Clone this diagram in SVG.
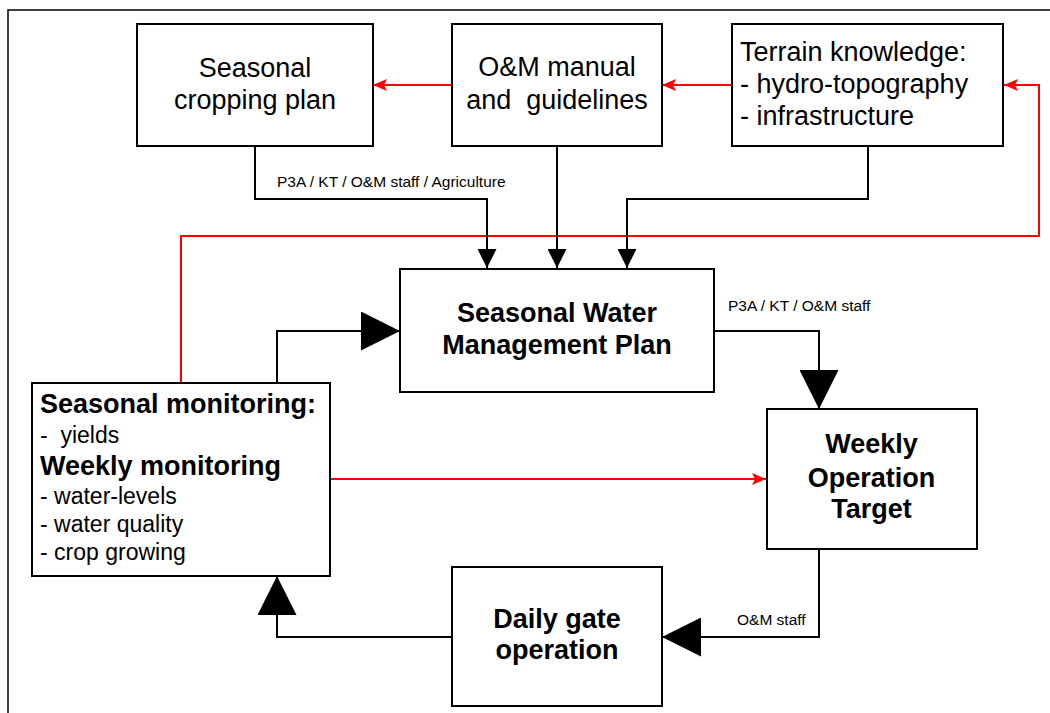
<svg xmlns="http://www.w3.org/2000/svg" width="1050" height="713" viewBox="0 0 1050 713">
<style>
.box{fill:#fff;stroke:#000;stroke-width:2}
.blk{fill:none;stroke:#000;stroke-width:2}
.red{fill:none;stroke:#ff0000;stroke-width:2}
text{font-family:"Liberation Sans",Arial,sans-serif;fill:#000}
.t{font-size:27px}
.b{font-size:27px;font-weight:bold}
.s{font-size:23px}
.lbl{font-size:15.5px}
.c{text-anchor:middle}
</style>
<defs>
<marker id="ar" viewBox="0 0 14 12" refX="14" refY="6" markerWidth="14" markerHeight="12" markerUnits="userSpaceOnUse" orient="auto"><path d="M0,0 L14,6 L0,12 L3,6 z" fill="#ff0000"/></marker>
<marker id="as" viewBox="0 0 19 19" refX="19" refY="9.5" markerWidth="19" markerHeight="19" markerUnits="userSpaceOnUse" orient="auto"><path d="M0,0 L19,9.5 L0,19 z" fill="#000"/></marker>
<marker id="al" viewBox="0 0 39 39" refX="39" refY="19.5" markerWidth="39" markerHeight="39" markerUnits="userSpaceOnUse" orient="auto"><path d="M0,0 L39,19.5 L0,39 z" fill="#000"/></marker>
</defs>
<rect width="1050" height="713" fill="#fff"/>
<path d="M8,713 V10 H1050" fill="none" stroke="#000" stroke-width="1.5"/>
<g id="connectors">
<path class="red" d="M452,85 H373" marker-end="url(#ar)"/>
<path class="red" d="M732,85 H662" marker-end="url(#ar)"/>
<path class="red" d="M181,383 V236 H1039 V85 H1004" marker-end="url(#ar)"/>
<path class="red" d="M330,479 H766" marker-end="url(#ar)"/>
<path class="blk" d="M255,146 V199 H487 V268" marker-end="url(#as)"/>
<path class="blk" d="M557,146 V268" marker-end="url(#as)"/>
<path class="blk" d="M868,146 V199 H627 V268" marker-end="url(#as)"/>
<path class="blk" d="M277,383 V331 H400" marker-end="url(#al)"/>
<path class="blk" d="M714,331 H819 V409" marker-end="url(#al)"/>
<path class="blk" d="M819,549 V637 H662" marker-end="url(#al)"/>
<path class="blk" d="M452,637 H277 V576" marker-end="url(#al)"/>
<text class="lbl" x="277" y="187">P3A / KT / O&amp;M staff / Agriculture</text>
<text class="lbl" x="728" y="311">P3A / KT / O&amp;M staff</text>
<text class="lbl" x="737" y="625">O&amp;M staff</text>
</g>
<g id="cropping">
<rect class="box" x="137" y="24" width="236" height="122"/>
<text class="t c" x="255" y="77">Seasonal</text>
<text class="t c" x="255" y="109">cropping plan</text>
</g>
<g id="manual">
<rect class="box" x="452" y="24" width="210" height="122"/>
<text class="t c" x="557" y="76">O&amp;M manual</text>
<text class="t c" x="557" y="109" xml:space="preserve">and  guidelines</text>
</g>
<g id="terrain">
<rect class="box" x="732" y="24" width="271" height="122"/>
<text class="t" x="740" y="61">Terrain knowledge:</text>
<text class="t" x="740" y="93">- hydro-topography</text>
<text class="t" x="740" y="125">- infrastructure</text>
</g>
<g id="swmp">
<rect class="box" x="400" y="269" width="314" height="123"/>
<text class="b c" x="557" y="322">Seasonal Water</text>
<text class="b c" x="557" y="354">Management Plan</text>
</g>
<g id="monitoring">
<rect class="box" x="32" y="383" width="298" height="193"/>
<text class="b" x="40" y="413">Seasonal monitoring:</text>
<text class="s" x="40" y="443" xml:space="preserve">-  yields</text>
<text class="b" x="40" y="475">Weekly monitoring</text>
<text class="s" x="40" y="504">- water-levels</text>
<text class="s" x="40" y="532">- water quality</text>
<text class="s" x="40" y="560">- crop growing</text>
</g>
<g id="weekly">
<rect class="box" x="767" y="409" width="210" height="140"/>
<text class="b c" x="871.5" y="453">Weekly</text>
<text class="b c" x="871.5" y="487">Operation</text>
<text class="b c" x="871.5" y="518">Target</text>
</g>
<g id="daily">
<rect class="box" x="452" y="567" width="210" height="139"/>
<text class="b c" x="557" y="628">Daily gate</text>
<text class="b c" x="557" y="659">operation</text>
</g>
</svg>
